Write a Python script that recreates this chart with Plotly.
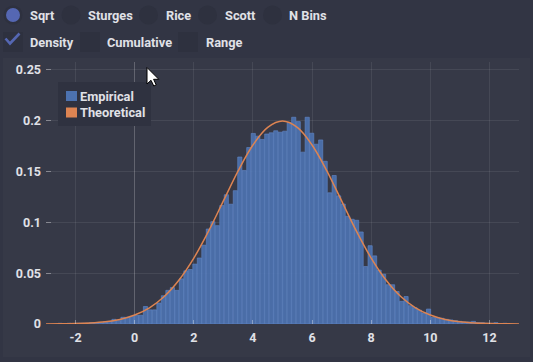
import plotly.graph_objects as go

# ---------------- data ----------------
BIN_START = -2.60
BIN_WIDTH = 0.152
DENSITY = [
    0.0007, 0.0, 0.0007, 0.0, 0.0007, 0.0007, 0.0007, 0.0013, 0.0013, 0.0013,
    0.0020, 0.0026, 0.0046, 0.0033, 0.0066, 0.0066, 0.0073, 0.0086, 0.0086, 0.0172,
    0.0139, 0.0139, 0.0206, 0.0278, 0.0331, 0.0358, 0.0331, 0.0444, 0.0523, 0.0536,
    0.0589, 0.0649, 0.0775, 0.0934, 0.1006, 0.0967, 0.1165, 0.1271, 0.1178, 0.1311,
    0.1642, 0.1510, 0.1735, 0.1874, 0.1847, 0.1815, 0.1868, 0.1880, 0.1900, 0.1886,
    0.1896, 0.1980, 0.2033, 0.1990, 0.1690, 0.2033, 0.1876, 0.1768, 0.1810, 0.1600,
    0.1290, 0.1460, 0.1260, 0.1180, 0.1060, 0.1030, 0.1020, 0.0905, 0.0565, 0.0770,
    0.0670, 0.0530, 0.0490, 0.0386, 0.0386, 0.0320, 0.0223, 0.0270, 0.0180, 0.0160,
    0.0135, 0.0108, 0.0147, 0.0065, 0.0062, 0.0056, 0.0046, 0.0040, 0.0033, 0.0026,
    0.0020, 0.0020, 0.0026, 0.0013, 0.0013, 0.0007, 0.0007, 0.0013, 0.0, 0.0007,
]
BIN_CENTERS = [BIN_START + (i + 0.5) * BIN_WIDTH for i in range(len(DENSITY))]

THEO_X = [-3, -2.5, -2, -1.5, -1, -0.5, 0, 0.5, 1, 1.5, 2, 2.5, 3, 3.5, 4, 4.5, 5,
          5.5, 6, 6.5, 7, 7.5, 8, 8.5, 9, 9.5, 10, 10.5, 11, 11.5, 12, 12.5, 13]
THEO_Y = [0.0001, 0.0002, 0.0004, 0.0010, 0.0022, 0.0045, 0.0088, 0.0159, 0.0270,
          0.0432, 0.0648, 0.0913, 0.1210, 0.1506, 0.1760, 0.1933, 0.1995, 0.1933,
          0.1760, 0.1506, 0.1210, 0.0913, 0.0648, 0.0432, 0.0270, 0.0159, 0.0088,
          0.0045, 0.0022, 0.0010, 0.0004, 0.0002, 0.0001]

X_TICKS = [-2, 0, 2, 4, 6, 8, 10, 12]
X_TICK_TEXT = ["-2", "0", "2", "4", "6", "8", "10", "12"]
Y_TICKS = [0, 0.05, 0.1, 0.15, 0.2, 0.25]
Y_TICK_TEXT = ["0", "0.05", "0.1", "0.15", "0.2", "0.25"]

RADIO_LABELS = ["Sqrt", "Sturges", "Rice", "Scott", "N Bins"]
CHECK_LABELS = ["Density", "Cumulative", "Range"]
LEGEND_LABELS = ["Empirical", "Theoretical"]

# ---------------- layout constants ----------------
W, H = 533, 362
L, R, T, B = 46, 14, 62, 38
PW, PH = W - L - R, H - T - B
BG = "#323544"
PANEL = "#363947"
TEXT = "#e0e1e7"
BLUE = "#4C72B0"
ORANGE = "#DD8452"
UI_BLUE = "#5567b3"
FONT = "Roboto"
UI_SIZE = 12.8


def px(x):
    return (x - L) / PW


def py(y):
    return (H - B - y) / PH


fig = go.Figure()
fig.add_trace(go.Bar(
    x=BIN_CENTERS, y=DENSITY, width=BIN_WIDTH * 0.93,
    marker=dict(color="rgba(76,114,176,0.92)",
                line=dict(color="rgba(98,136,200,0.9)", width=0.7)),
    showlegend=False, hoverinfo="skip",
))
fig.add_trace(go.Scatter(
    x=THEO_X, y=THEO_Y, mode="lines", line=dict(color=ORANGE, width=1.5, shape="spline"),
    showlegend=False, cliponaxis=False, hoverinfo="skip",
))

shapes = []
annotations = []

# chart panel
shapes.append(dict(type="rect", xref="paper", yref="paper", layer="below",
                   x0=px(3), x1=px(530), y0=py(58), y1=py(357),
                   fillcolor=PANEL, line=dict(width=0)))

# radio buttons
radio_cx = [13, 71, 148.5, 207.5, 272.5]
radio_tx = [29, 87, 165, 224, 288]
for i, (lab, cx, tx) in enumerate(zip(RADIO_LABELS, radio_cx, radio_tx)):
    r = 9.5
    shapes.append(dict(type="circle", xref="paper", yref="paper",
                       x0=px(cx - r), x1=px(cx + r), y0=py(15 + r), y1=py(15 - r),
                       fillcolor="#2e313f", line=dict(width=0)))
    if i == 0:
        r2 = 7
        shapes.append(dict(type="circle", xref="paper", yref="paper",
                           x0=px(cx - r2), x1=px(cx + r2), y0=py(15 + r2), y1=py(15 - r2),
                           fillcolor=UI_BLUE, line=dict(width=0)))
    annotations.append(dict(text=lab, xref="paper", yref="paper", x=px(tx - 1.5), y=py(15),
                            xanchor="left", yanchor="middle", showarrow=False,
                            font=dict(family=FONT, size=UI_SIZE, color=TEXT, weight="bold")))

# checkboxes
box_x = [3, 80, 178]
check_tx = [29, 106, 205]
for i, (lab, bx, tx) in enumerate(zip(CHECK_LABELS, box_x, check_tx)):
    shapes.append(dict(type="rect", xref="paper", yref="paper",
                       x0=px(bx), x1=px(bx + 20), y0=py(52), y1=py(32),
                       fillcolor="#2e313f", line=dict(width=0)))
    if i == 0:
        shapes.append(dict(type="path", xref="paper", yref="paper",
                           path=f"M{px(5.5)},{py(38.5)} L{px(10)},{py(43.5)} L{px(19.5)},{py(33.5)}",
                           line=dict(color=UI_BLUE, width=2.6)))
    annotations.append(dict(text=lab, xref="paper", yref="paper", x=px(tx - 1.5), y=py(42),
                            xanchor="left", yanchor="middle", showarrow=False,
                            font=dict(family=FONT, size=UI_SIZE, color=TEXT, weight="bold")))

# legend
shapes.append(dict(type="rect", xref="paper", yref="paper",
                   x0=px(58), x1=px(151), y0=py(126), y1=py(82),
                   fillcolor="#2f3240", line=dict(width=0)))
for lab, col, cy in zip(LEGEND_LABELS, [BLUE, ORANGE], [96, 112.5]):
    shapes.append(dict(type="rect", xref="paper", yref="paper",
                       x0=px(66), x1=px(77), y0=py(cy + 5), y1=py(cy - 5),
                       fillcolor=col, line=dict(width=0)))
    annotations.append(dict(text=lab, xref="paper", yref="paper", x=px(77.5), y=py(cy),
                            xanchor="left", yanchor="middle", showarrow=False,
                            font=dict(family=FONT, size=UI_SIZE, color=TEXT, weight="bold")))

# mouse cursor
cur = [(0, 0), (0, 16.5), (4, 12.8), (6.8, 18.5), (9.2, 17.4), (6.6, 11.8), (11.8, 11.8)]
cx0, cy0 = 147, 67.5
path = "M" + " L".join(f"{px(cx0 + dx)},{py(cy0 + dy)}" for dx, dy in cur) + " Z"
shapes.append(dict(type="path", xref="paper", yref="paper", path=path,
                   fillcolor="white", line=dict(color="black", width=1)))

fig.update_layout(
    width=W, height=H, margin=dict(l=L, r=R, t=T, b=B),
    paper_bgcolor=BG, plot_bgcolor="rgba(0,0,0,0)",
    barmode="overlay", bargap=0,
    shapes=shapes, annotations=annotations,
    font=dict(family=FONT, size=12, color=TEXT, weight="bold"),
    xaxis=dict(range=[-3, 13], tickvals=X_TICKS, ticktext=X_TICK_TEXT,
               showgrid=True, gridcolor="rgba(255,255,255,0.08)", gridwidth=1,
               zeroline=True, zerolinecolor="rgba(255,255,255,0.22)", zerolinewidth=1,
               ticks="inside", ticklen=4, tickcolor="rgba(255,255,255,0.35)",
               showline=False, ticklabelstandoff=4,
               tickfont=dict(family=FONT, size=12.5, color=TEXT, weight="bold")),
    yaxis=dict(range=[0, PH / 1017.0], tickvals=Y_TICKS, ticktext=Y_TICK_TEXT,
               showgrid=True, gridcolor="rgba(255,255,255,0.08)", gridwidth=1,
               zeroline=False, ticks="inside", ticklen=5,
               tickcolor="rgba(255,255,255,0.35)", showline=False, ticklabelstandoff=4,
               tickfont=dict(family=FONT, size=12.5, color=TEXT, weight="bold")),
)

fig.write_html(
    "out.html",
    config={"displayModeBar": False, "staticPlot": True},
    post_script="document.body.style.margin='0';document.body.style.background='" + BG + "';",
)
